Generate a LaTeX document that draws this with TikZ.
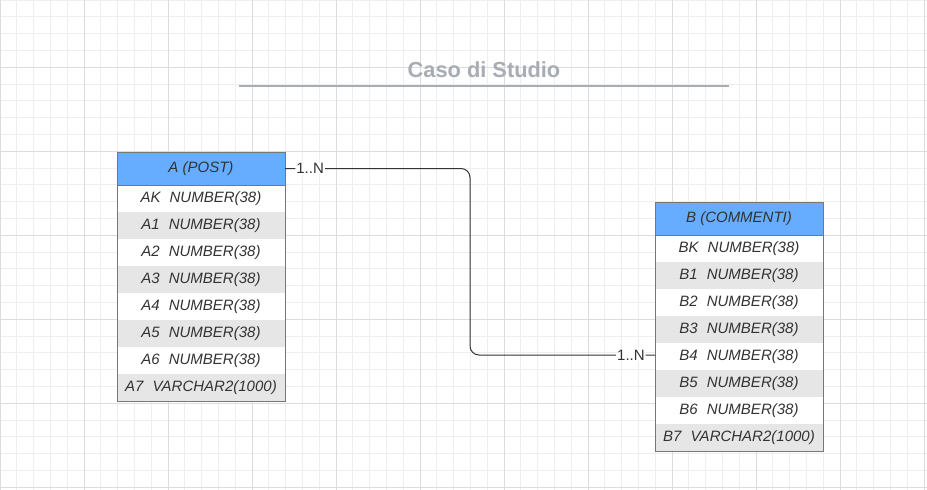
\documentclass[tikz,border=0pt]{standalone}
\usepackage{fontspec}
\setmainfont{Liberation Sans}
\usetikzlibrary{positioning}
\definecolor{headblue}{HTML}{66ADFF}
\definecolor{rowgray}{HTML}{E6E6E6}
\definecolor{textgray}{HTML}{333333}
\definecolor{bordergray}{HTML}{777777}
\definecolor{titlegray}{HTML}{A8ACB4}
\definecolor{gridminor}{HTML}{EEEEEE}
\definecolor{gridmajor}{HTML}{DCDCDC}
\newcommand{\colgap}{\hspace{9pt}}

\begin{document}
\begin{tikzpicture}[x=1pt, y=-1pt, node distance=0pt,
  cell/.style={minimum width=168pt, minimum height=27pt, inner sep=0pt, outer sep=0pt,
    text=textgray, font=\fontsize{15}{17}\selectfont\itshape},
  head/.style={cell, fill=headblue, minimum height=33pt},
  plainrow/.style={cell, fill=white},
  shaderow/.style={cell, fill=rowgray},
  card/.style={fill=white, inner sep=1pt, text=textgray, font=\fontsize{15}{17}\selectfont}]
  \useasboundingbox (0,0) rectangle (927,490);
  \fill[white] (0,0) rectangle (927,490);
  % grid
  \foreach \i in {0,...,55} \draw[gridminor, line width=1pt] ({\i*16.8},0) -- ({\i*16.8},490);
  \foreach \j in {0,...,29} \draw[gridminor, line width=1pt] (0,{\j*16.8}) -- (927,{\j*16.8});
  \foreach \i in {0,...,11} \draw[gridmajor, line width=1pt] ({\i*84},0) -- ({\i*84},490);
  \foreach \j in {0,...,5} \draw[gridmajor, line width=1pt] (0,{67.2+\j*84}) -- (927,{67.2+\j*84});

  % title
  \node (title) at (484,70) [text=titlegray, font=\fontsize{21.8}{25}\selectfont\bfseries] {Caso di Studio};
  \draw[titlegray, line width=2pt] (239,86) -- (729,86);

  % table A
  \node (Ahead) at (201,168.5) [head] {A (POST)};
  \node (AK) [below=of Ahead, plainrow] {AK\colgap NUMBER(38)};
  \node (A1) [below=of AK, shaderow] {A1\colgap NUMBER(38)};
  \node (A2) [below=of A1, plainrow] {A2\colgap NUMBER(38)};
  \node (A3) [below=of A2, shaderow] {A3\colgap NUMBER(38)};
  \node (A4) [below=of A3, plainrow] {A4\colgap NUMBER(38)};
  \node (A5) [below=of A4, shaderow] {A5\colgap NUMBER(38)};
  \node (A6) [below=of A5, plainrow] {A6\colgap NUMBER(38)};
  \node (A7) [below=of A6, shaderow] {A7\colgap VARCHAR2(1000)};
  \draw[bordergray, line width=1pt] (Ahead.south west) -- (Ahead.south east);
  \draw[bordergray, line width=1pt] (Ahead.north west) rectangle (A7.south east);

  % table B
  \node (Bhead) at (739,218.5) [head] {B (COMMENTI)};
  \node (BK) [below=of Bhead, plainrow] {BK\colgap NUMBER(38)};
  \node (B1) [below=of BK, shaderow] {B1\colgap NUMBER(38)};
  \node (B2) [below=of B1, plainrow] {B2\colgap NUMBER(38)};
  \node (B3) [below=of B2, shaderow] {B3\colgap NUMBER(38)};
  \node (B4) [below=of B3, plainrow] {B4\colgap NUMBER(38)};
  \node (B5) [below=of B4, shaderow] {B5\colgap NUMBER(38)};
  \node (B6) [below=of B5, plainrow] {B6\colgap NUMBER(38)};
  \node (B7) [below=of B6, shaderow] {B7\colgap VARCHAR2(1000)};
  \draw[bordergray, line width=1pt] (Bhead.south west) -- (Bhead.south east);
  \draw[bordergray, line width=1pt] (Bhead.north west) rectangle (B7.south east);

  % relation
  \coordinate (bend) at (470,260);
  \draw[textgray, line width=1pt, rounded corners=9pt] (Ahead.east) -| (bend)
    node[pos=0.068, card] {1..N}
    |- ([yshift=1.5pt]B4.west)
    node[pos=0.935, card] {1..N};
\end{tikzpicture}
\end{document}
